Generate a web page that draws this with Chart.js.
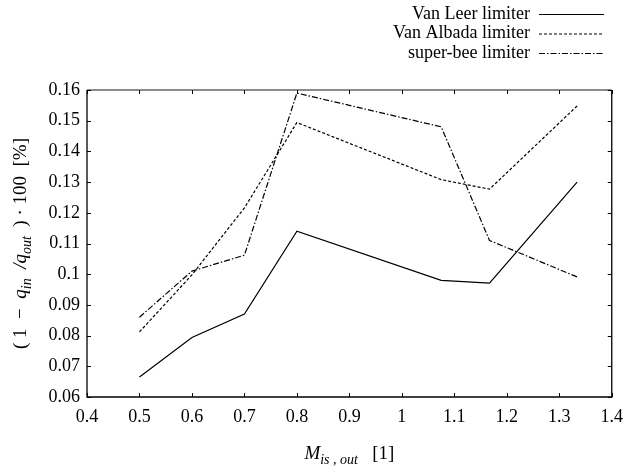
<!DOCTYPE html>
<html>
<head>
<meta charset="utf-8">
<script src="https://cdn.jsdelivr.net/npm/chart.js@4"></script>
<style>
  html, body { margin: 0; padding: 0; background: #fff; }
  #wrap { width: 632px; height: 473px; }
</style>
</head>
<body>
<div id="wrap"><canvas id="chart" width="632" height="473"></canvas></div>
<script>
// Mach numbers (x) and loss values for each limiter
var machVals = [0.5, 0.6, 0.7, 0.8, 1.075, 1.167, 1.334];
var vanLeer = [0.0665, 0.0794, 0.087, 0.114, 0.098, 0.0971, 0.130];
var vanAlbada = [0.0812, 0.0998, 0.1216, 0.1494, 0.1308, 0.1277, 0.1548];
var superBee = [0.086, 0.101, 0.1062, 0.159, 0.148, 0.111, 0.0991];
var seriesNames = ['Van Leer limiter', 'Van Albada limiter', 'super-bee limiter'];
var xRange = [0.4, 1.4];
var yRange = [0.06, 0.16];

var FONT = '"Liberation Serif", "DejaVu Serif", serif';
var dashes = [[], [3, 2], [6, 2, 1.5, 2]];

function toPoints(ys) {
    return machVals.map(function (x, i) { return { x: x, y: ys[i] }; });
}

function fmt(v) {
    return String(parseFloat(v.toFixed(2)));
}

// inward ticks, frame, legend and axis titles
var decorPlugin = {
    id: 'decor',
    afterDraw: function (chart) {
        var ctx = chart.ctx;
        var a = chart.chartArea;
        var xs = chart.scales.x, ys = chart.scales.y;
        ctx.save();

        // frame
        ctx.lineWidth = 1.3;
        ctx.strokeStyle = '#000';
        ctx.beginPath();
        ctx.moveTo(a.left, a.top);
        ctx.lineTo(a.left, a.bottom);
        ctx.lineTo(a.right, a.bottom);
        ctx.lineTo(a.right, a.top);
        ctx.stroke();
        ctx.strokeStyle = '#666';
        ctx.beginPath();
        ctx.moveTo(a.left, a.top);
        ctx.lineTo(a.right, a.top);
        ctx.stroke();

        // ticks
        ctx.strokeStyle = '#000';
        ctx.lineWidth = 1;
        var tl = 4;
        xs.ticks.forEach(function (t) {
            var px = Math.round(xs.getPixelForValue(t.value)) + 0.5;
            ctx.beginPath();
            ctx.moveTo(px, a.bottom); ctx.lineTo(px, a.bottom - tl);
            ctx.moveTo(px, a.top); ctx.lineTo(px, a.top + tl);
            ctx.stroke();
        });
        ys.ticks.forEach(function (t) {
            var py = Math.round(ys.getPixelForValue(t.value)) + 0.5;
            ctx.beginPath();
            ctx.moveTo(a.left, py); ctx.lineTo(a.left + tl, py);
            ctx.moveTo(a.right, py); ctx.lineTo(a.right - tl, py);
            ctx.stroke();
        });

        // legend
        ctx.fillStyle = '#000';
        ctx.textBaseline = 'middle';
        ctx.textAlign = 'right';
        ctx.font = '18px ' + FONT;
        chart.data.datasets.forEach(function (ds, i) {
            var ly = 14 + i * 19.5;
            ctx.fillText(ds.label, 530, ly);
            ctx.setLineDash(dashes[i]);
            ctx.lineWidth = 1.2;
            ctx.beginPath();
            ctx.moveTo(539, ly + 0.5);
            ctx.lineTo(604, ly + 0.5);
            ctx.stroke();
        });
        ctx.setLineDash([]);

        // x title: M_{is,out} [1]
        var cx = (a.left + a.right) / 2;
        var parts = [
            { t: 'M', f: 'italic 19px ' + FONT, dy: 0 },
            { t: 'is', f: 'italic 14px ' + FONT, dy: 5 },
            { t: ' , ', f: '14px ' + FONT, dy: 5 },
            { t: 'out', f: 'italic 14px ' + FONT, dy: 5 },
            { t: '   [1]', f: '19px ' + FONT, dy: 0 }
        ];
        drawParts(ctx, parts, cx, 459);

        // y title, rotated
        ctx.translate(20, (a.top + a.bottom) / 2);
        ctx.rotate(-Math.PI / 2);
        var yparts = [
            { t: '( 1  −  ', f: '19px ' + FONT, dy: 0 },
            { t: 'q', f: 'italic 19px ' + FONT, dy: 0 },
            { t: 'in', f: 'italic 14px ' + FONT, dy: 5 },
            { t: '  /', f: 'italic 19px ' + FONT, dy: 0 },
            { t: 'q', f: 'italic 19px ' + FONT, dy: 0 },
            { t: 'out', f: 'italic 14px ' + FONT, dy: 5 },
            { t: '  ) · 100  [%]', f: '19px ' + FONT, dy: 0 }
        ];
        drawParts(ctx, yparts, 0, 6);
        ctx.restore();
    }
};

function drawParts(ctx, parts, cx, by) {
    ctx.textAlign = 'left';
    ctx.textBaseline = 'alphabetic';
    var total = 0;
    parts.forEach(function (p) { ctx.font = p.f; total += ctx.measureText(p.t).width; });
    var x = cx - total / 2;
    parts.forEach(function (p) {
        ctx.font = p.f;
        ctx.fillText(p.t, x, by + p.dy);
        x += ctx.measureText(p.t).width;
    });
}

var lineStyle = function (label, ys, dash) {
    return {
        label: label,
        data: toPoints(ys),
        borderColor: '#000',
        borderWidth: 1.2,
        borderDash: dash,
        pointRadius: 0,
        fill: false,
        tension: 0
    };
};

new Chart(document.getElementById('chart').getContext('2d'), {
    type: 'line',
    data: {
        datasets: [
            lineStyle(seriesNames[0], vanLeer, dashes[0]),
            lineStyle(seriesNames[1], vanAlbada, dashes[1]),
            lineStyle(seriesNames[2], superBee, dashes[2])
        ]
    },
    options: {
        responsive: false,
        animation: false,
        layout: { padding: { left: 0, right: 12, top: 90, bottom: 0 } },
        plugins: { legend: { display: false }, tooltip: { enabled: false } },
        scales: {
            x: {
                type: 'linear',
                min: xRange[0], max: xRange[1],
                grid: { display: false, drawTicks: false },
                border: { display: false },
                ticks: {
                    stepSize: 0.1, padding: 9, color: '#000',
                    font: { family: FONT, size: 18 },
                    callback: fmt, maxRotation: 0, autoSkip: false
                },
                afterFit: function (s) { s.height = 76; }
            },
            y: {
                min: yRange[0], max: yRange[1],
                grid: { display: false, drawTicks: false },
                border: { display: false },
                ticks: {
                    stepSize: 0.01, padding: 7, color: '#000',
                    font: { family: FONT, size: 18 },
                    callback: fmt, autoSkip: false
                },
                afterFit: function (s) { s.width = 87; }
            }
        }
    },
    plugins: [decorPlugin]
});
</script>
</body>
</html>
